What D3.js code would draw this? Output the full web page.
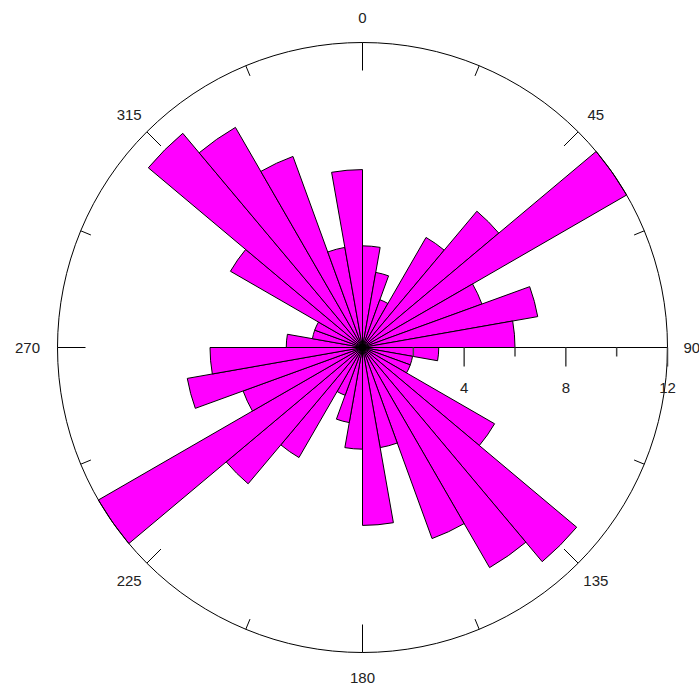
<!DOCTYPE html>
<html>
<head>
<meta charset="utf-8">
<script src="https://cdn.jsdelivr.net/npm/d3@7"></script>
<style>
    body { margin: 0; background: #fff; }
    text { font-family: "Liberation Sans", Arial, sans-serif; fill: #222; }
</style>
</head>
<body>
<div id="rose"></div>
<script>
var svgWidth = 699;
var svgHeight = 691;

var cx = 362.5;
var cy = 347.5;
var outerR = 305;

// bin start azimuths (degrees, clockwise from north), 10 degree bins
var binStarts = d3.range(0, 360, 10);
// counts per bin (axial data, so the second half mirrors the first)
var counts = [4, 3, 2, 5, 7, 12, 5, 7, 6, 3, 2, 2, 6, 11, 10, 8, 4, 7,
              4, 3, 2, 5, 7, 12, 5, 7, 6, 3, 2, 2, 6, 11, 10, 8, 4, 7];
// direction labels round the circle
var dirLabels = [0, 45, 90, 135, 180, 225, 270, 315];
// radial scale ticks
var radialMajor = [4, 8, 12];
var radialMinor = [2, 6, 10];

var svg = d3.select("#rose")
    .append("svg")
    .attr("width", svgWidth)
    .attr("height", svgHeight);

var g = svg.append("g")
    .attr("transform", `translate(${cx}, ${cy})`);

var rScale = d3.scaleLinear()
    .domain([0, 12])
    .range([0, outerR]);

var rad = d => d * Math.PI / 180;

// Petals
var arc = d3.arc()
    .innerRadius(0)
    .outerRadius(d => rScale(d.value))
    .startAngle(d => rad(d.start))
    .endAngle(d => rad(d.start + 10));

var bins = binStarts.map((s, i) => ({ start: s, value: counts[i] }));

g.selectAll("path.petal")
    .data(bins)
    .enter()
    .append("path")
    .attr("class", "petal")
    .attr("d", arc)
    .attr("fill", "#ff00ff")
    .attr("stroke", "#000")
    .attr("stroke-width", 1);

// dark hub where all the edges meet
g.append("circle")
    .attr("r", 4)
    .attr("fill", "#000");

// Outer circle
g.append("circle")
    .attr("r", outerR)
    .attr("fill", "none")
    .attr("stroke", "#000")
    .attr("stroke-width", 1);

// Ticks on the circle every 22.5 degrees
var circTicks = d3.range(0, 360, 22.5);
g.selectAll("line.ctick")
    .data(circTicks)
    .enter()
    .append("line")
    .attr("class", "ctick")
    .attr("x1", d => outerR * Math.sin(rad(d)))
    .attr("y1", d => -outerR * Math.cos(rad(d)))
    .attr("x2", d => {
        var len = d % 90 === 0 ? 28 : (d % 45 === 0 ? 20 : 11);
        return (outerR - len) * Math.sin(rad(d));
    })
    .attr("y2", d => {
        var len = d % 90 === 0 ? 28 : (d % 45 === 0 ? 20 : 11);
        return -(outerR - len) * Math.cos(rad(d));
    })
    .attr("stroke", "#000")
    .attr("stroke-width", 1);

// Direction labels
g.selectAll("text.dir")
    .data(dirLabels)
    .enter()
    .append("text")
    .attr("class", "dir")
    .attr("x", d => 330 * Math.sin(rad(d)) + (d === 270 ? -5 : 0))
    .attr("y", d => -330 * Math.cos(rad(d)))
    .attr("dy", "0.36em")
    .attr("text-anchor", d => d === 90 ? "start" : "middle")
    .attr("dx", d => d === 90 ? -9 : 0)
    .style("font-size", "15px")
    .text(d => d);

// Radial axis along east
g.append("line")
    .attr("x1", 0)
    .attr("y1", 0)
    .attr("x2", outerR)
    .attr("y2", 0)
    .attr("stroke", "#000")
    .attr("stroke-width", 1);

g.selectAll("line.rmajor")
    .data(radialMajor)
    .enter()
    .append("line")
    .attr("class", "rmajor")
    .attr("x1", d => rScale(d))
    .attr("x2", d => rScale(d))
    .attr("y1", 0)
    .attr("y2", 19)
    .attr("stroke", "#444")
    .attr("stroke-width", 1.5);

g.selectAll("line.rminor")
    .data(radialMinor)
    .enter()
    .append("line")
    .attr("class", "rminor")
    .attr("x1", d => rScale(d))
    .attr("x2", d => rScale(d))
    .attr("y1", 0)
    .attr("y2", 9)
    .attr("stroke", "#444")
    .attr("stroke-width", 1.5);

g.selectAll("text.rlabel")
    .data(radialMajor)
    .enter()
    .append("text")
    .attr("class", "rlabel")
    .attr("x", d => rScale(d))
    .attr("y", 40)
    .attr("dy", "0.36em")
    .attr("text-anchor", "middle")
    .style("font-size", "15px")
    .text(d => d);
</script>
</body>
</html>
